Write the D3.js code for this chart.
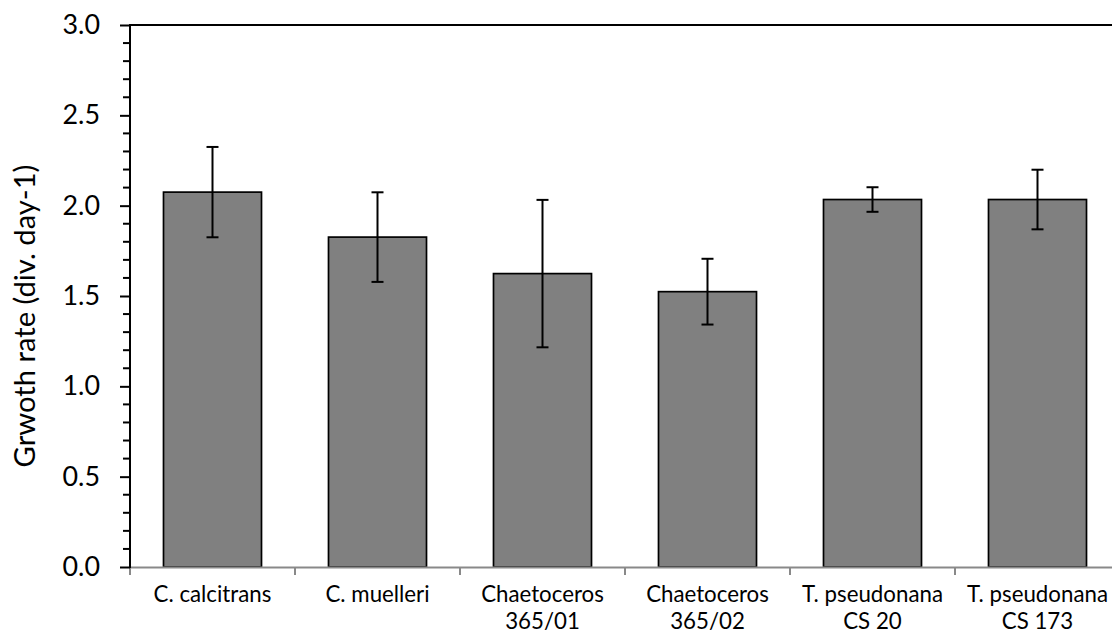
<!DOCTYPE html>
<html>
<head>
<meta charset="utf-8">
<script src="https://cdn.jsdelivr.net/npm/d3@7"></script>
<style>
  html, body { margin: 0; padding: 0; background: #fff; }
  svg { display: block; }
  text { font-family: Lato, "Open Sans", sans-serif; fill: #000; }
</style>
</head>
<body>
<svg id="chart" width="1112" height="636"></svg>
<script>
const categories = ["C. calcitrans", "C. muelleri", "Chaetoceros\n365/01", "Chaetoceros\n365/02", "T. pseudonana\nCS 20", "T. pseudonana\nCS 173"];
const growthRate = [2.075, 1.826, 1.624, 1.524, 2.034, 2.034];
const errorSize = [0.25, 0.248, 0.408, 0.182, 0.068, 0.165];
const yMajorTicks = [0, 0.5, 1.0, 1.5, 2.0, 2.5, 3.0];
const yLabel = "Grwoth rate (div. day-1)";

(function () {
const plotLeft = 130, plotRight = 1120, plotTop = 25, plotBottom = 567;

const svg = d3.select("#chart");

// font size that makes a sample string a given width (to mimic the reference's font metrics)
function fitSize(sample, targetWidth, base) {
  const t = svg.append("text").attr("font-size", base).text(sample);
  const w = t.node().getComputedTextLength();
  t.remove();
  return w > 0 ? base * targetWidth / w : base;
}
const tickFont = fitSize("3.0", 37.5, 26);
const catFont = fitSize("T. pseudonana", 141, 21);
const titleFont = fitSize(yLabel, 303, 27);

const x = d3.scaleBand().domain(categories).range([plotLeft, plotRight])
  .paddingInner(0.406).paddingOuter(0.203);
const y = d3.scaleLinear().domain([0, 3]).range([plotBottom, plotTop]);

// top border line
svg.append("line")
  .attr("x1", plotLeft).attr("x2", plotRight)
  .attr("y1", y(3)).attr("y2", y(3))
  .attr("stroke", "#000").attr("stroke-width", 2);

// bars
svg.append("g").selectAll("rect").data(categories).join("rect")
  .attr("x", d => x(d))
  .attr("y", (d, i) => y(growthRate[i]))
  .attr("width", x.bandwidth())
  .attr("height", (d, i) => y(0) - y(growthRate[i]))
  .attr("fill", "#808080")
  .attr("stroke", "#000")
  .attr("stroke-width", 1.7);

// x axis (gray)
const xAxisG = svg.append("g");
xAxisG.append("line")
  .attr("x1", plotLeft).attr("x2", plotRight)
  .attr("y1", plotBottom + 0.5).attr("y2", plotBottom + 0.5)
  .attr("stroke", "#898989").attr("stroke-width", 2);
const boundaries = d3.range(categories.length + 1).map(i => plotLeft + i * x.step());
xAxisG.selectAll("line.tick").data(boundaries).join("line")
  .attr("class", "tick")
  .attr("x1", d => d).attr("x2", d => d)
  .attr("y1", plotBottom).attr("y2", plotBottom + 8)
  .attr("stroke", "#898989").attr("stroke-width", 2);

// x labels
const xl = svg.append("g").selectAll("text").data(categories).join("text")
  .attr("x", d => x(d) + x.bandwidth() / 2)
  .attr("y", 602)
  .attr("text-anchor", "middle")
  .attr("font-size", catFont);
xl.each(function(d) {
  const parts = d.split("\n");
  const t = d3.select(this);
  parts.forEach((p, k) => {
    t.append("tspan").attr("x", x(d) + x.bandwidth() / 2).attr("dy", k === 0 ? 0 : 27).text(p);
  });
});

// y axis
const yAxis = d3.axisLeft(y).tickValues(yMajorTicks).tickSize(10).tickPadding(20).tickFormat(d3.format(".1f"));
const yG = svg.append("g").attr("transform", `translate(${plotLeft},0)`).call(yAxis);
yG.select(".domain").remove();
yG.selectAll(".tick line").attr("stroke", "#000").attr("stroke-width", 2);
yG.selectAll(".tick text").attr("font-size", tickFont).attr("font-family", "Lato, 'Open Sans', sans-serif").attr("fill", "#000");
const minor = d3.range(0, 31).map(i => i / 10).filter(v => !yMajorTicks.some(m => Math.abs(m - v) < 1e-9));
yG.selectAll("line.minor").data(minor).join("line")
  .attr("class", "minor")
  .attr("x1", -7).attr("x2", 0)
  .attr("y1", d => y(d)).attr("y2", d => y(d))
  .attr("stroke", "#000").attr("stroke-width", 2);
yG.append("line")
  .attr("x1", 0).attr("x2", 0)
  .attr("y1", y(3) - 1).attr("y2", y(0) + 1)
  .attr("stroke", "#000").attr("stroke-width", 2);

// error bars
const eb = svg.append("g");
categories.forEach((c, i) => {
  const cx = x(c) + x.bandwidth() / 2;
  const hi = y(growthRate[i] + errorSize[i]);
  const lo = y(growthRate[i] - errorSize[i]);
  eb.append("line").attr("x1", cx).attr("x2", cx).attr("y1", hi).attr("y2", lo)
    .attr("stroke", "#000").attr("stroke-width", 2);
  [hi, lo].forEach(yy => {
    eb.append("line").attr("x1", cx - 6).attr("x2", cx + 6).attr("y1", yy).attr("y2", yy)
      .attr("stroke", "#000").attr("stroke-width", 2);
  });
});

// y label
svg.append("text")
  .attr("transform", `translate(35,316) rotate(-90)`)
  .attr("text-anchor", "middle")
  .attr("font-size", titleFont)
  .text(yLabel);
})();
</script>
</body>
</html>
